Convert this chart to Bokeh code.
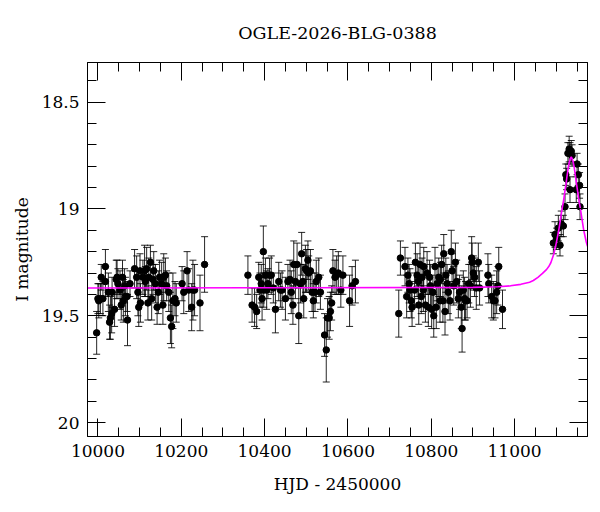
from bokeh.plotting import figure
from bokeh.models import (ColumnDataSource, Whisker, TeeHead, Range1d, LinearAxis,
                          SingleIntervalTicker, NumeralTickFormatter, CustomJSTickFormatter)
from bokeh.embed import file_html
from bokeh.resources import INLINE


#photometry, season by season (HJD - 2450000, I mag, error)
s1_t = [9997, 10000, 10002, 10006, 10008, 10012, 10018, 10018, 10025, 10028,
        10030, 10033, 10034, 10040, 10044, 10046, 10048, 10053, 10056, 10059,
        10061, 10064, 10066, 10070, 10071, 10077, 10088, 10093, 10096, 10098,
        10101, 10102, 10108, 10112, 10114, 10117, 10120, 10122, 10126, 10129,
        10132, 10134, 10138, 10142, 10145, 10148, 10153, 10156, 10158, 10162,
        10165, 10170, 10174, 10177, 10180, 10185, 10188, 10202, 10206, 10214,
        10218, 10225, 10228, 10232, 10245, 10256]
s1_m = [19.58, 19.42, 19.43, 19.42, 19.32, 19.42, 19.27, 19.34, 19.39, 19.53,
        19.51, 19.49, 19.39, 19.47, 19.33, 19.32, 19.35, 19.38, 19.45, 19.32,
        19.43, 19.36, 19.41, 19.41, 19.52, 19.35, 19.28, 19.32, 19.39, 19.46,
        19.29, 19.44, 19.32, 19.29, 19.34, 19.28, 19.44, 19.32, 19.25, 19.42,
        19.33, 19.29, 19.35, 19.46, 19.39, 19.32, 19.35, 19.45, 19.32, 19.31,
        19.36, 19.39, 19.51, 19.55, 19.43, 19.42, 19.44, 19.35, 19.39, 19.29,
        19.38, 19.46, 19.38, 19.38, 19.44, 19.26]
s1_e = [0.10, 0.07, 0.08, 0.07, 0.06, 0.08, 0.08, 0.07, 0.09, 0.08,
        0.10, 0.09, 0.07, 0.08, 0.09, 0.08, 0.07, 0.09, 0.07, 0.08,
        0.10, 0.08, 0.09, 0.07, 0.12, 0.06, 0.09, 0.10, 0.11, 0.09,
        0.08, 0.09, 0.08, 0.12, 0.07, 0.10, 0.08, 0.09, 0.08, 0.10,
        0.07, 0.09, 0.09, 0.08, 0.10, 0.08, 0.10, 0.09, 0.11, 0.08,
        0.07, 0.09, 0.12, 0.10, 0.13, 0.08, 0.09, 0.08, 0.10, 0.09,
        0.10, 0.11, 0.14, 0.12, 0.13, 0.13]

s2_t = [10360, 10370, 10376, 10381, 10386, 10389, 10392, 10394, 10397, 10398,
        10402, 10405, 10408, 10412, 10416, 10421, 10426, 10434, 10438, 10442,
        10450, 10456, 10461, 10464, 10468, 10470, 10474, 10478, 10482, 10486,
        10489, 10492, 10494, 10498, 10501, 10504, 10506, 10510, 10514, 10517,
        10521, 10524, 10530, 10534, 10544, 10548, 10551, 10555, 10558, 10561,
        10564, 10569, 10573, 10577, 10583, 10588, 10604, 10610, 10618]
s2_m = [19.31, 19.45, 19.46, 19.48, 19.32, 19.38, 19.35, 19.42, 19.20, 19.38,
        19.31, 19.38, 19.35, 19.31, 19.31, 19.37, 19.47, 19.34, 19.38, 19.38,
        19.42, 19.34, 19.33, 19.39, 19.45, 19.26, 19.34, 19.26, 19.50, 19.35,
        19.21, 19.34, 19.42, 19.28, 19.29, 19.24, 19.30, 19.29, 19.39, 19.43,
        19.39, 19.34, 19.32, 19.39, 19.59, 19.66, 19.51, 19.51, 19.48, 19.44,
        19.29, 19.32, 19.31, 19.30, 19.38, 19.31, 19.43, 19.36, 19.34]
s2_e = [0.09, 0.08, 0.09, 0.08, 0.07, 0.08, 0.09, 0.10, 0.12, 0.08,
        0.08, 0.09, 0.07, 0.08, 0.09, 0.07, 0.11, 0.09, 0.08, 0.09,
        0.10, 0.08, 0.09, 0.10, 0.09, 0.11, 0.08, 0.10, 0.13, 0.09,
        0.10, 0.08, 0.09, 0.11, 0.10, 0.09, 0.08, 0.10, 0.09, 0.08,
        0.09, 0.10, 0.09, 0.08, 0.10, 0.15, 0.09, 0.10, 0.09, 0.08,
        0.10, 0.08, 0.09, 0.10, 0.08, 0.09, 0.12, 0.09, 0.10]

s3_t = [10722, 10726, 10737, 10741, 10744, 10747, 10749, 10752, 10754, 10760,
        10762, 10766, 10769, 10770, 10773, 10776, 10778, 10781, 10782, 10786,
        10790, 10793, 10796, 10798, 10801, 10804, 10806, 10809, 10812, 10814,
        10818, 10821, 10822, 10825, 10828, 10830, 10833, 10835, 10838, 10841,
        10845, 10848, 10850, 10854, 10858, 10861, 10865, 10868, 10872, 10874,
        10877, 10880, 10882, 10886, 10890, 10894, 10897, 10898, 10901, 10904,
        10908, 10913, 10916, 10936, 10938, 10945, 10949, 10953, 10957, 10960,
        10962, 10971]
s3_m = [19.49, 19.23, 19.27, 19.41, 19.31, 19.35, 19.38, 19.43, 19.46, 19.38,
        19.25, 19.31, 19.34, 19.45, 19.26, 19.41, 19.32, 19.38, 19.27, 19.45,
        19.30, 19.46, 19.32, 19.36, 19.47, 19.39, 19.50, 19.27, 19.46, 19.35,
        19.32, 19.43, 19.33, 19.26, 19.43, 19.21, 19.48, 19.31, 19.35, 19.39,
        19.43, 19.20, 19.29, 19.36, 19.25, 19.34, 19.42, 19.39, 19.46, 19.56,
        19.38, 19.42, 19.43, 19.43, 19.35, 19.36, 19.23, 19.25, 19.30, 19.32,
        19.37, 19.25, 19.37, 19.31, 19.35, 19.41, 19.43, 19.43, 19.39, 19.36,
        19.27, 19.47]
s3_e = [0.11, 0.08, 0.09, 0.10, 0.08, 0.09, 0.10, 0.08, 0.09, 0.08,
        0.09, 0.10, 0.08, 0.09, 0.10, 0.08, 0.09, 0.10, 0.09, 0.08,
        0.10, 0.09, 0.08, 0.10, 0.09, 0.08, 0.10, 0.09, 0.10, 0.08,
        0.09, 0.10, 0.08, 0.09, 0.10, 0.09, 0.11, 0.08, 0.09, 0.10,
        0.09, 0.10, 0.08, 0.09, 0.09, 0.10, 0.09, 0.08, 0.10, 0.11,
        0.09, 0.10, 0.09, 0.08, 0.09, 0.10, 0.10, 0.09, 0.08, 0.09,
        0.10, 0.09, 0.08, 0.10, 0.09, 0.10, 0.09, 0.08, 0.10, 0.09,
        0.09, 0.09]

pk_t = [11093, 11097, 11101, 11105, 11109, 11112, 11117, 11121, 11123, 11125,
        11128, 11131, 11133, 11136, 11138, 11133, 11150, 11153, 11156, 11148,
        11157]
pk_m = [19.16, 19.12, 19.14, 19.09, 19.17, 19.07, 19.08, 18.99, 18.84, 18.86,
        18.74, 18.72, 18.74, 18.73, 18.75, 18.91, 18.79, 18.84, 18.89, 18.91,
        18.99]
pk_e = [0.05, 0.06, 0.05, 0.06, 0.05, 0.06, 0.05, 0.06, 0.05, 0.05,
        0.05, 0.06, 0.05, 0.05, 0.05, 0.06, 0.05, 0.05, 0.06, 0.06,
        0.06]

#model curve
model_t = [9975, 10500, 10900, 10960, 10990, 11015, 11036, 11045, 11056, 11067,
           11077, 11082, 11087, 11094, 11100, 11106, 11110, 11114, 11118, 11121,
           11124, 11126, 11129, 11131, 11134, 11136, 11138, 11141, 11143, 11146,
           11148, 11151, 11154, 11158, 11162, 11166, 11172, 11175]
model_m = [19.370, 19.369, 19.367, 19.364, 19.360, 19.353, 19.343, 19.335, 19.320, 19.302,
           19.283, 19.270, 19.252, 19.212, 19.160, 19.100, 19.050, 19.000, 18.955, 18.915,
           18.875, 18.845, 18.805, 18.783, 18.764, 18.757, 18.764, 18.783, 18.805, 18.845,
           18.875, 18.915, 18.955, 19.000, 19.050, 19.100, 19.155, 19.175]


hjd = s1_t + s2_t + s3_t + pk_t
mag = s1_m + s2_m + s3_m + pk_m
err = s1_e + s2_e + s3_e + pk_e
src = ColumnDataSource(data=dict(hjd=hjd, mag=mag,
                                 upper=[m + e for m, e in zip(mag, err)],
                                 lower=[m - e for m, e in zip(mag, err)]))

font = "DejaVu Serif"

p = figure(frame_width=500, frame_height=374,
           min_border_left=87, min_border_right=11, min_border_top=62, min_border_bottom=69,
           x_range=Range1d(9975, 11175), y_range=Range1d(20.065, 18.315),
           output_backend="svg", toolbar_location=None,
           title="OGLE-2026-BLG-0388", background_fill_color="white",
           outline_line_color="black", outline_line_width=1)
p.title.align = "center"
p.title.text_font = font
p.title.text_font_size = "17.5px"
p.title.text_font_style = "normal"
p.title.text_color = "black"
p.title.standoff = 40
p.xgrid.visible = False
p.ygrid.visible = False


def style(ax, ticker, labels=True):
    ax.ticker = ticker
    ax.major_tick_in = 18
    ax.major_tick_out = 0
    ax.minor_tick_in = 9
    ax.minor_tick_out = 0
    ax.axis_line_color = "black"
    ax.major_tick_line_color = "black"
    ax.minor_tick_line_color = "black"
    ax.major_label_text_font = font
    ax.major_label_text_font_size = "17px"
    ax.major_label_text_color = "black"
    ax.axis_label_text_font = font
    ax.axis_label_text_font_size = "17px"
    ax.axis_label_text_font_style = "normal"
    ax.axis_label_text_color = "black"
    if not labels:
        ax.formatter = CustomJSTickFormatter(code="return ''")
        ax.major_label_standoff = 0


style(p.xaxis[0], SingleIntervalTicker(interval=200, num_minor_ticks=4))
style(p.yaxis[0], SingleIntervalTicker(interval=0.5, num_minor_ticks=5))
p.xaxis[0].axis_label = "HJD - 2450000"
p.yaxis[0].axis_label = "I magnitude"
p.xaxis[0].major_label_standoff = 8
p.xaxis[0].axis_label_standoff = 14
p.yaxis[0].major_label_standoff = 8
p.yaxis[0].axis_label_standoff = 7
p.yaxis[0].formatter = NumeralTickFormatter(format="0.[0]")

top = LinearAxis()
style(top, SingleIntervalTicker(interval=200, num_minor_ticks=4), labels=False)
p.add_layout(top, "above")
right = LinearAxis()
style(right, SingleIntervalTicker(interval=0.5, num_minor_ticks=5), labels=False)
p.add_layout(right, "right")

bars = Whisker(source=src, base="hjd", upper="upper", lower="lower",
               line_color="black", line_width=1, line_alpha=0.85,
               upper_head=TeeHead(size=7, line_color="black", line_alpha=0.85),
               lower_head=TeeHead(size=7, line_color="black", line_alpha=0.85))
p.add_layout(bars)

p.scatter("hjd", "mag", source=src, size=6.5, color="black")
p.line(model_t, model_m, line_color="magenta", line_width=1.6)

open("out.html", "w").write(file_html(p, INLINE))
